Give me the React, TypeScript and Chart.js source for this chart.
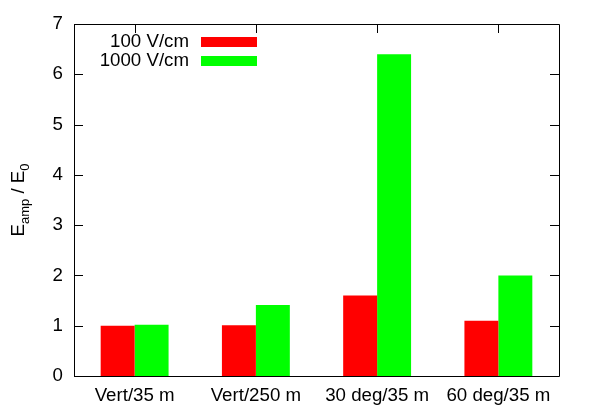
import React, { useEffect, useRef } from "react";
import { Chart, registerables } from "chart.js";

Chart.register(...registerables);

const categories = ["Vert/35 m", "Vert/250 m", "30 deg/35 m", "60 deg/35 m"];
const series100 = [1.0, 1.01, 1.6, 1.1];
const series1000 = [1.02, 1.41, 6.4, 2.0];
const seriesNames = ["100 V/cm", "1000 V/cm"];
const seriesColors = ["#ff0000", "#00ff00"];
const yTicks = [0, 1, 2, 3, 4, 5, 6, 7];

const FONT = "Liberation Sans, Arial, Helvetica, sans-serif";
const FS = 18.7;

const framePlugin = {
  id: "framePlugin",
  afterDraw(chart: any) {
    const { ctx, chartArea } = chart;
    const { left, right, top, bottom } = chartArea;
    const x = chart.scales.x;
    const y = chart.scales.y;
    ctx.save();
    ctx.strokeStyle = "#000";
    ctx.lineWidth = 1;
    ctx.beginPath();
    ctx.rect(Math.round(left) + 0.5, Math.round(top) + 0.5, Math.round(right - left), Math.round(bottom - top));
    ctx.stroke();
    // y ticks inward both sides
    ctx.beginPath();
    for (const v of yTicks) {
      const py = Math.round(y.getPixelForValue(v)) + 0.5;
      ctx.moveTo(left, py);
      ctx.lineTo(left + 9, py);
      ctx.moveTo(right, py);
      ctx.lineTo(right - 9, py);
    }
    // x ticks on top
    for (let i = 0; i < categories.length; i++) {
      const px = Math.round(x.getPixelForValue(i)) + 0.5;
      ctx.moveTo(px, top);
      ctx.lineTo(px, top + 9);
    }
    ctx.stroke();

    // legend
    ctx.font = `${FS}px ${FONT}`;
    ctx.textAlign = "right";
    ctx.textBaseline = "middle";
    const rows = [42, 61];
    for (let i = 0; i < seriesNames.length; i++) {
      ctx.fillStyle = "#000";
      ctx.fillText(seriesNames[i], 189, rows[i]);
      ctx.fillStyle = seriesColors[i];
      ctx.fillRect(201, rows[i] - 5, 56, 10);
    }

    // y axis title: E_amp / E_0
    ctx.translate(18, (top + bottom) / 2);
    ctx.rotate(-Math.PI / 2);
    const big = `${FS}px ${FONT}`;
    const small = `13px ${FONT}`;
    const parts: [string, boolean][] = [["E", false], ["amp", true], [" / E", false], ["0", true]];
    let total = 0;
    for (const [t, sub] of parts) {
      ctx.font = sub ? small : big;
      total += ctx.measureText(t).width;
    }
    let cx = -total / 2;
    ctx.textAlign = "left";
    ctx.textBaseline = "alphabetic";
    ctx.fillStyle = "#000";
    for (const [t, sub] of parts) {
      ctx.font = sub ? small : big;
      ctx.fillText(t, cx, sub ? 11 : 6);
      cx += ctx.measureText(t).width;
    }
    ctx.restore();
  },
};

export default function App() {
  const ref = useRef<HTMLCanvasElement>(null);
  useEffect(() => {
    document.body.style.margin = "0";
    const chart = new Chart(ref.current!, {
      type: "bar",
      data: {
        labels: categories,
        datasets: [
          { label: seriesNames[0], data: series100, backgroundColor: seriesColors[0], borderWidth: 0 },
          { label: seriesNames[1], data: series1000, backgroundColor: seriesColors[1], borderWidth: 0 },
        ],
      },
      options: {
        animation: false,
        responsive: false,
        layout: { padding: { top: 24, right: 33, left: 0, bottom: 0 } },
        plugins: { legend: { display: false }, tooltip: { enabled: false } },
        datasets: { bar: { categoryPercentage: 0.56, barPercentage: 1.0 } },
        scales: {
          x: {
            grid: { display: false, drawTicks: false },
            border: { display: false },
            ticks: { color: "#000", font: { family: FONT, size: FS }, padding: 9, maxRotation: 0, autoSkip: false },
            afterFit: (s: any) => { s.height = 39; },
          },
          y: {
            min: 0,
            max: 7,
            grid: { display: false, drawTicks: false },
            border: { display: false },
            ticks: { color: "#000", font: { family: FONT, size: FS }, padding: 11, stepSize: 1 },
            afterFit: (s: any) => { s.width = 74; },
          },
        },
      },
      plugins: [framePlugin],
    });
    return () => chart.destroy();
  }, []);
  return <canvas ref={ref} width={592} height={415} />;
}
